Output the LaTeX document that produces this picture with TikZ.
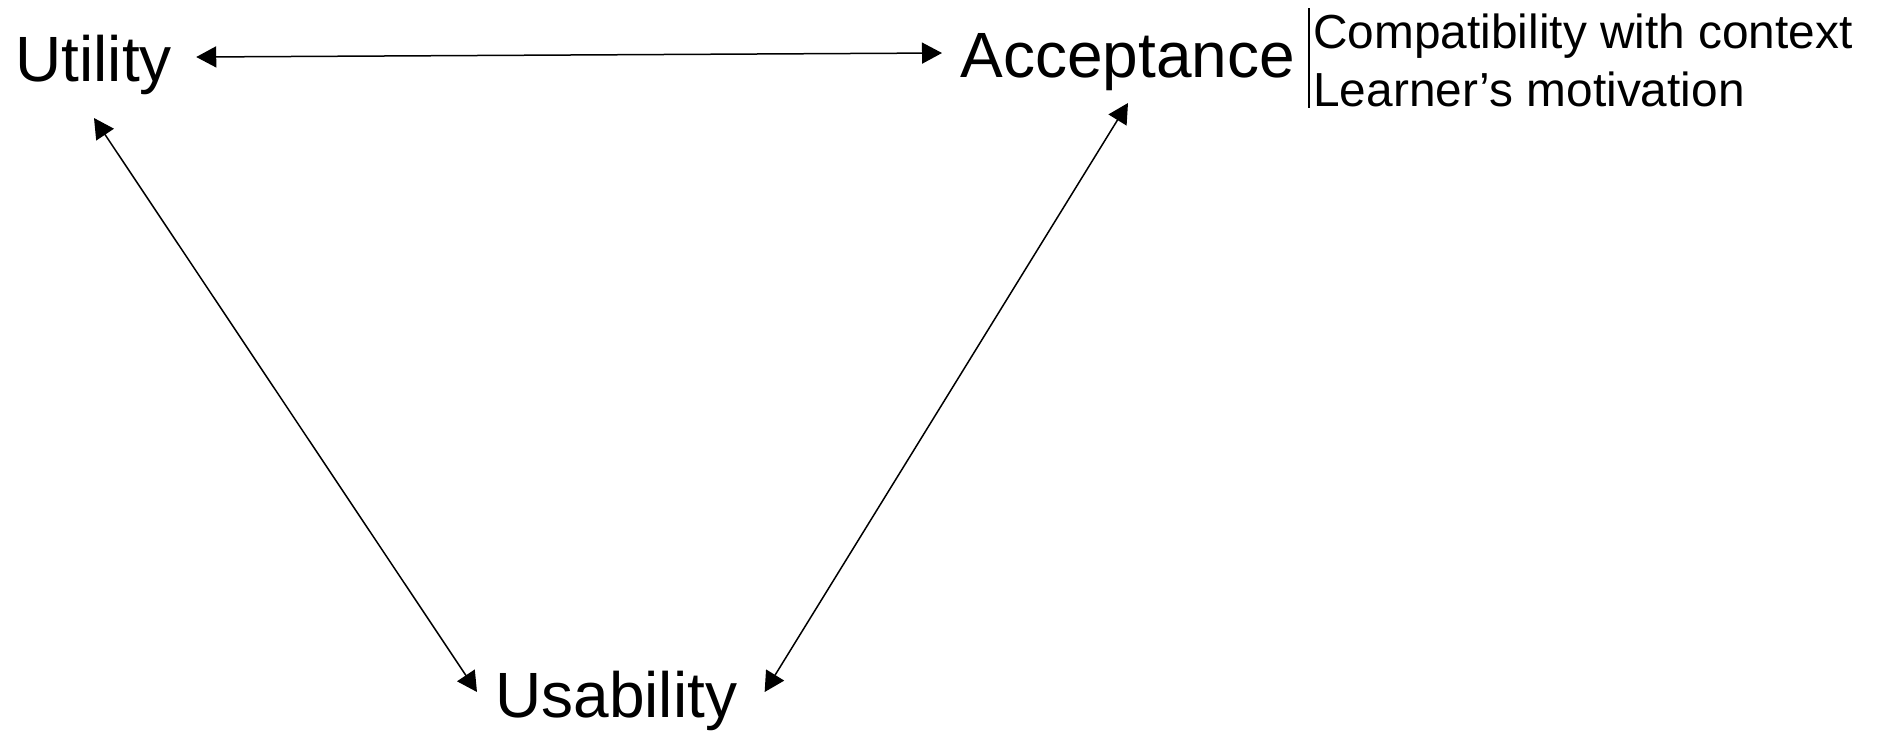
\documentclass[tikz,border=0pt]{standalone}
\usepackage{fontspec}
\setmainfont{Liberation Sans}
\usetikzlibrary{arrows.meta}
\tikzset{
  big/.style={inner sep=0pt, font=\fontsize{32pt}{36pt}\selectfont},
  small/.style={inner sep=0pt, font=\fontsize{23.9pt}{28pt}\selectfont},
  arr/.style={line width=0.75pt, {Triangle[length=10pt,width=10.5pt]}-{Triangle[length=10pt,width=10.5pt]}},
  bar/.style={line width=0.75pt}
}
\begin{document}
\begin{tikzpicture}[x=0.5pt,y=-0.5pt]
\useasboundingbox (0,0) rectangle (1881,730);
\node[big, anchor=base west] (ut) at (15,81) {Utility};
\node[big, anchor=base west] (ac) at (960,77) {Acceptance};
\node[big, anchor=base west] (us) at (495,717) {Usability};
\node[small, anchor=base west] (n1) at (1313,48) {Compatibility with context};
\node[small, anchor=base west] (n2) at (1313,106) {Learner’s motivation};
\draw[bar] ([shift={(-4,-40)}]n1.base west) -- ([shift={(-4,2)}]n2.base west);
\draw[arr] ([shift={(24,-24)}]ut.base east) -- ([shift={(-18,-24)}]ac.base west);
\draw[arr] ([shift={(79,37)}]ut.base west) -- ([shift={(-18,-25)}]us.base west);
\draw[arr] ([shift={(168,26)}]ac.base west) -- ([shift={(27,-25)}]us.base east);
\end{tikzpicture}
\end{document}
